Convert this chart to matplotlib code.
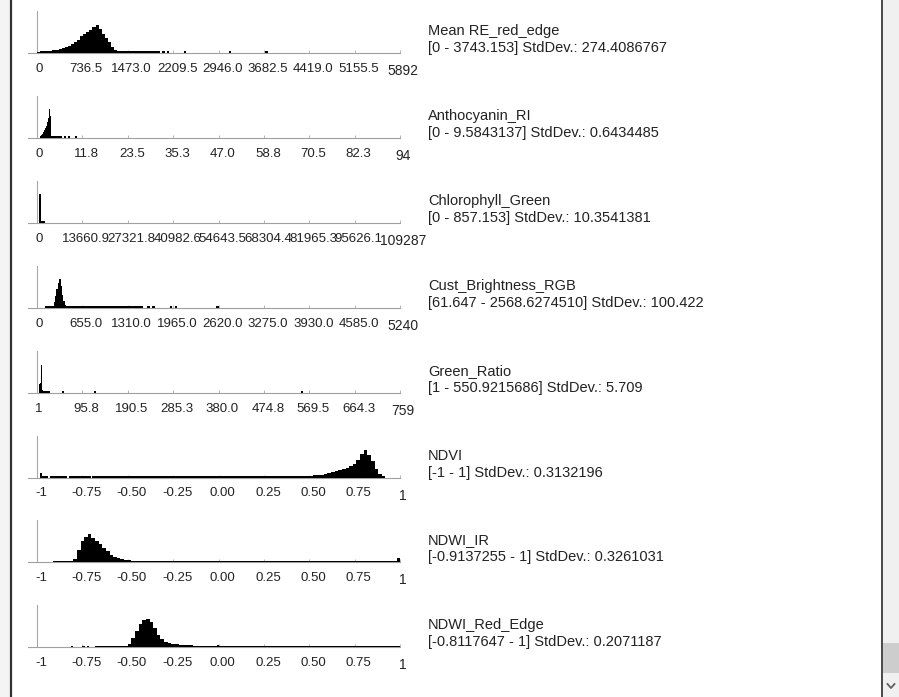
import matplotlib.pyplot as plt
from matplotlib.patches import Rectangle
from matplotlib.lines import Line2D
import numpy as np

plt.rcParams['font.family'] = ['Liberation Sans', 'DejaVu Sans']

W, H = 899, 697

names = ['Mean RE_red_edge', 'Anthocyanin_RI', 'Chlorophyll_Green',
         'Cust_Brightness_RGB', 'Green_Ratio', 'NDVI', 'NDWI_IR', 'NDWI_Red_Edge']
stats = ['[0 - 3743.153] StdDev.: 274.4086767',
         '[0 - 9.5843137] StdDev.: 0.6434485',
         '[0 - 857.153] StdDev.: 10.3541381',
         '[61.647 - 2568.6274510] StdDev.: 100.422',
         '[1 - 550.9215686] StdDev.: 5.709',
         '[-1 - 1] StdDev.: 0.3132196',
         '[-0.9137255 - 1] StdDev.: 0.3261031',
         '[-0.8117647 - 1] StdDev.: 0.2071187']

x_min = [0, 0, 0, 0, 1, -1, -1, -1]
x_max = [5892, 94, 109287, 5240, 759, 1, 1, 1]

tick_labels = [
    ['0', '736.5', '1473.0', '2209.5', '2946.0', '3682.5', '4419.0', '5155.5', '5892'],
    ['0', '11.8', '23.5', '35.3', '47.0', '58.8', '70.5', '82.3', '94'],
    ['0', '13660.9', '27321.8', '40982.6', '54643.5', '68304.4', '81965.3', '95626.1', '109287'],
    ['0', '655.0', '1310.0', '1965.0', '2620.0', '3275.0', '3930.0', '4585.0', '5240'],
    ['1', '95.8', '190.5', '285.3', '380.0', '474.8', '569.5', '664.3', '759'],
    ['-1', '-0.75', '-0.50', '-0.25', '0.00', '0.25', '0.50', '0.75', '1'],
    ['-1', '-0.75', '-0.50', '-0.25', '0.00', '0.25', '0.50', '0.75', '1'],
    ['-1', '-0.75', '-0.50', '-0.25', '0.00', '0.25', '0.50', '0.75', '1'],
]

# dense part of each histogram: first bin edge, bin width, counts
bin_start = [0, 0.75, 750, 240, 6, 0.48, -0.80, -0.50]
bin_width = [50, 0.25, 400, 20, 2, 0.02, 0.02, 0.02]
counts = [
    [0.8, 1.6, 1.9, 2.2, 2.5, 2.9, 3.3, 3.8, 4.6, 5.6, 6.9, 8.6, 10.8, 13.5,
     16.6, 19.4, 21.5, 23.0, 26.5, 27.8, 24.0, 19.5, 15.2, 11.0, 6.4, 3.0, 1.8],
    [1.8, 2.5, 4.0, 6.0, 8.0, 10.0, 12.0, 16.0, 20.0, 29.0, 22.0, 5.0, 2.2, 1.8],
    [29.0, 1.8, 1.8],
    [6.0, 11.5, 18.5, 25.0, 29.0, 22.0, 13.0, 6.5, 3.0, 1.8],
    [9.0, 10.0, 28.0, 2.5, 1.8],
    [1.8, 1.9, 2.2, 2.6, 3.0, 3.6, 4.4, 5.4, 6.6, 7.6, 8.6, 9.6, 11.2, 14.0,
     18.0, 24.0, 27.5, 23.0, 16.5, 9.0, 3.2, 1.6],
    [3.0, 12.0, 21.0, 25.0, 28.0, 24.0, 21.0, 18.0, 14.5, 11.0, 7.5, 5.5, 4.0,
     3.2, 2.4, 2.0, 1.8],
    [3.0, 9.0, 16.0, 23.0, 27.0, 28.5, 25.0, 19.0, 12.5, 8.0, 5.0, 4.0, 3.2,
     3.0, 2.6, 2.4, 2.0, 1.9, 1.8, 1.8, 1.8, 1.8],
]

# sparse tails and isolated bins: (from, to, count)
runs = [
    [(1350, 2000, 1.7), (2030, 2080, 1.7), (2110, 2150, 1.7), (2380, 2420, 1.7),
     (3110, 3150, 1.7), (3700, 3743, 1.7)],
    [(4.25, 6.4, 1.7), (7.0, 7.6, 1.7), (7.9, 8.5, 1.7), (9.9, 10.3, 1.7)],
    [(1950, 2300, 1.7)],
    [(115, 240, 1.7), (440, 1530, 1.7), (1590, 1630, 1.7), (1660, 1700, 1.7),
     (1915, 1945, 1.7), (1990, 2020, 1.7), (2590, 2620, 1.7)],
    [(16, 28, 1.7), (54, 57, 1.7), (121, 124, 1.7), (552, 556, 1.7)],
    [(-0.985, -0.975, 5.0), (-0.975, -0.94, 1.7), (-0.928, -0.835, 1.7),
     (-0.825, -0.705, 1.7), (-0.695, 0.48, 1.7)],
    [(-0.9137, -0.80, 1.7), (-0.46, 0.985, 1.7), (0.985, 1.0, 4.5)],
    [(-0.812, -0.800, 1.7), (-0.750, -0.738, 1.7), (-0.722, -0.712, 1.7),
     (-0.68, -0.50, 1.7), (-0.06, 1.0, 1.7), (-0.006, 0.004, 2.8)],
]


def fx(px):
    return px / W


def fy(py):
    return 1 - py / H


fig = plt.figure(figsize=(W / 100, H / 100), dpi=100)
fig.patch.set_facecolor('white')

# window frame: left border, right border and scrollbar
fig.patches.append(Rectangle((0, 0), fx(10), 1, transform=fig.transFigure,
                             facecolor='#f4f4f4', edgecolor='none'))
fig.lines.append(Line2D([fx(10.5), fx(10.5)], [0, 1], transform=fig.transFigure,
                        color='#333333', lw=1.6))
fig.patches.append(Rectangle((fx(883), 0), fx(16), 1, transform=fig.transFigure,
                             facecolor='#f0f0f0', edgecolor='none'))
fig.lines.append(Line2D([fx(882), fx(882)], [0, 1], transform=fig.transFigure,
                        color='#3a3a3a', lw=1.3))
fig.patches.append(Rectangle((fx(883), fy(673)), fx(16), 30 / H, transform=fig.transFigure,
                             facecolor='#cdcdcd', edgecolor='none'))
fig.lines.append(Line2D([fx(887.5), fx(891), fx(894.5)], [fy(684), fy(688), fy(684)],
                        transform=fig.transFigure, color='#606060', lw=1.3))

for i in range(len(names)):
    yb = 53 + 84.9 * i
    ax = fig.add_axes([fx(28), fy(yb), (400 - 28) / W, 42 / H])
    span = x_max[i] - x_min[i]
    ax.set_xlim(x_min[i] - span * 9 / 363, x_max[i])
    ax.set_ylim(0, 42)
    ax.patch.set_visible(False)

    edges = bin_start[i] + bin_width[i] * np.arange(len(counts[i]) + 1)
    ax.stairs(counts[i], edges, fill=True, color='black', linewidth=0, zorder=3)
    for a, b, h in runs[i]:
        ax.bar(a, h, width=b - a, align='edge', color='black', linewidth=0, zorder=3)

    for s in ['top', 'right', 'left']:
        ax.spines[s].set_visible(False)
    ax.spines['bottom'].set_color('#a0a0a0')
    ax.spines['bottom'].set_linewidth(0.8)
    ax.axvline(x_min[i], color='#a8a8a8', lw=0.8)

    ticks = np.linspace(x_min[i], x_max[i], 9)
    ax.set_xticks(ticks)
    ax.set_xticklabels([])
    ax.set_yticks([])
    ax.tick_params(axis='x', direction='in', length=2.2, color='#b4b4b4', width=0.7)

    n = len(ticks)
    for k, (t, lab) in enumerate(zip(ticks, tick_labels[i])):
        if k == 0:
            ax.annotate(lab, xy=(t, 0), xytext=(-2, -10), textcoords='offset pixels',
                        ha='left', va='top', fontsize=9.5, color='#222222')
        elif k == n - 1:
            ax.annotate(lab, xy=(t, 0), xytext=(3, -11), textcoords='offset pixels',
                        ha='center', va='top', fontsize=10, color='#222222')
        else:
            ax.annotate(lab, xy=(t, 0), xytext=(4, -10), textcoords='offset pixels',
                        ha='center', va='top', fontsize=9.5, color='#222222')

    fig.text(fx(428), fy(yb - 18), names[i], ha='left', va='baseline',
             fontsize=10.5, color='#222222')
    fig.text(fx(428), fy(yb - 1), stats[i], ha='left', va='baseline',
             fontsize=10.5, color='#222222')

fig.savefig('out.png', dpi=100)
